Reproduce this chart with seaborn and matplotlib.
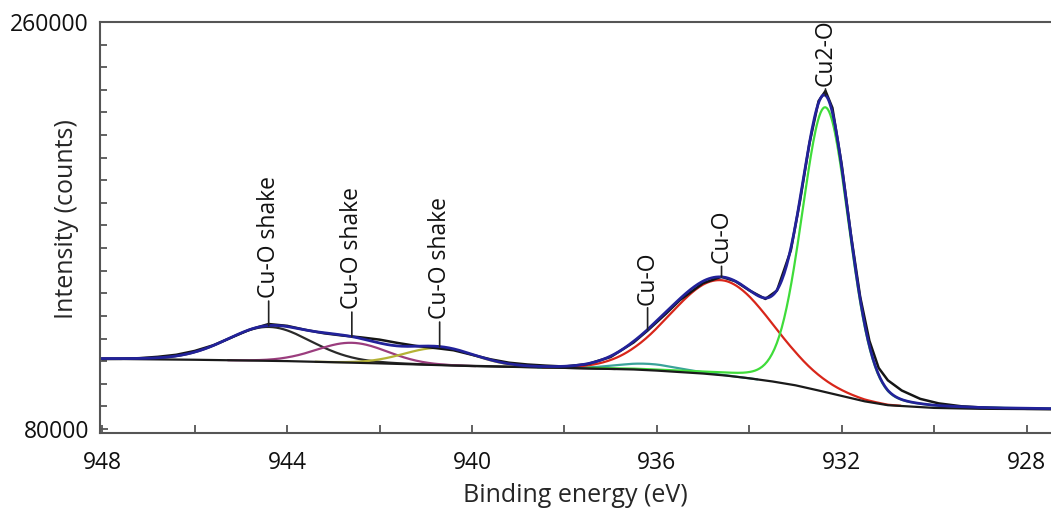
import numpy as np
import pandas as pd
import seaborn as sns
import matplotlib.pyplot as plt
from matplotlib.ticker import MultipleLocator, FixedLocator

# Shirley background (binding energy, counts)
bg_energy = [948.0, 946.0, 944.0, 942.0, 940.0, 938.0, 936.5, 936.0, 935.0, 934.5,
             934.0, 933.5, 933.0, 932.5, 932.0, 931.5, 931.0, 930.0, 929.0, 927.4]
bg_counts = [111000, 110600, 110000, 109000, 107800, 107000, 106300, 105800, 104500, 103600,
             102400, 101000, 99300, 97000, 94600, 92200, 90500, 89300, 88900, 88700]

# fitted components: centre (eV), height above background, FWHM (eV), lorentz fraction
peak_names = ["Cu-O shake", "Cu-O shake", "Cu-O shake", "Cu-O", "Cu-O", "Cu2-O"]
peak_center = [944.4, 942.6, 940.7, 936.2, 934.6, 932.35]
peak_height = [15000, 8800, 7600, 2800, 42000, 126000]
peak_fwhm = [2.15, 1.8, 1.8, 1.6, 2.6, 1.2]
peak_eta = [0.1, 0.0, 0.0, 0.0, 0.0, 0.15]
peak_colors = ["#2a2a2a", "#9b3d7e", "#b5b336", "#3aa39a", "#d8261a", "#3fdc3a"]

# measured spectrum (black line)
data_energy = [948.0, 947.6, 947.2, 946.8, 946.4, 946.0, 945.6, 945.2, 944.8, 944.4,
               944.0, 943.6, 943.2, 942.8, 942.4, 942.0, 941.6, 941.2, 940.8, 940.4,
               940.0, 939.6, 939.2, 938.8, 938.4, 938.0, 937.5, 937.0, 936.5, 936.2,
               935.8, 935.5, 935.0, 934.6, 934.3, 934.0, 933.65, 933.4, 933.1, 932.9,
               932.7, 932.5, 932.35, 932.2, 932.0, 931.8, 931.6, 931.4, 931.2, 931.0,
               930.7, 930.3, 929.9, 929.4, 928.8, 928.0, 927.4]
data_counts = [110900, 111000, 111300, 111900, 112800, 114500, 117000, 120500, 124000, 126400,
               125600, 123800, 122300, 121300, 120500, 119500, 118000, 116700, 115800, 114800,
               112800, 110800, 109300, 108500, 108000, 107600, 108700, 111800, 118300, 123500,
               131000, 137000, 144500, 147300, 145300, 141300, 137500, 141200, 159000, 181000,
               206000, 225000, 229500, 222000, 197000, 166000, 138500, 119000, 107000, 101500,
               97000, 93300, 91300, 90000, 89300, 88900, 88800]

label_offsets = [14, 14, 14, 12, 4, 1]


def pseudo_voigt(e, c, h, w, eta):
    d = (e - c) / w
    return h * ((1 - eta) * np.exp(-4 * np.log(2) * d ** 2) + eta / (1 + 4 * d ** 2))


def main():
    sns.set_theme(style="white")
    plt.rcParams['font.family'] = ['Open Sans', 'DejaVu Sans']

    fig = plt.figure(figsize=(10.51, 5.08), dpi=100)
    ax = fig.add_axes([100 / 1051, 1 - 433 / 508, 951 / 1051, 411 / 508])

    e = np.linspace(948.2, 927.2, 800)
    bg = np.interp(e, bg_energy[::-1], bg_counts[::-1])
    comps = [pseudo_voigt(e, c, h, w, k) for c, h, w, k
             in zip(peak_center, peak_height, peak_fwhm, peak_eta)]
    envelope = bg + np.sum(comps, axis=0)

    # each component only where it rises off the background
    for comp, h, col in zip(comps, peak_height, peak_colors):
        keep = comp > 0.002 * h
        sns.lineplot(x=e[keep], y=(bg + comp)[keep], color=col, lw=1.6, ax=ax)
    sns.lineplot(x=bg_energy, y=bg_counts, color="#1a1a1a", lw=1.6, ax=ax)
    sns.lineplot(x=data_energy, y=data_counts, color="#151515", lw=1.8, ax=ax)
    sns.lineplot(x=e, y=envelope, color="#22229a", lw=2.0, ax=ax)

    for name, c, off in zip(peak_names, peak_center, label_offsets):
        yv = np.interp(c, e[::-1], envelope[::-1])
        ax.annotate(name, xy=(c, yv), xytext=(0, off + 6), textcoords="offset points",
                    rotation=90, ha="center", va="bottom", fontsize=16.5, color="#111111",
                    arrowprops=dict(arrowstyle="-", color="#222222", lw=1.2,
                                    shrinkA=0, shrinkB=0))

    ax.set_xlim(948.05, 927.47)
    ax.set_ylim(78200, 260000)
    ax.xaxis.set_major_locator(FixedLocator([948, 944, 940, 936, 932, 928]))
    ax.xaxis.set_minor_locator(MultipleLocator(2))
    ax.yaxis.set_major_locator(FixedLocator([80000, 260000]))
    ax.yaxis.set_minor_locator(MultipleLocator(10000))
    ax.tick_params(axis="both", which="both", direction="in", color="#555555",
                   width=1.3, length=6, labelsize=16.5, labelcolor="#111111")
    ax.tick_params(axis="x", which="both", pad=13, bottom=True)
    ax.tick_params(axis="y", which="both", pad=8, left=True)
    ax.tick_params(axis="y", which="minor", length=5)

    for side in ["left", "bottom", "top"]:
        ax.spines[side].set_color("#555555")
        ax.spines[side].set_linewidth(1.5)
    ax.spines["right"].set_visible(False)

    ax.set_xlabel("Binding energy (eV)", fontsize=18, labelpad=6)
    ax.set_ylabel("Intensity (counts)", fontsize=18)
    ax.yaxis.set_label_coords(-0.022, 0.52)

    fig.savefig("out.png", dpi=100)


if __name__ == "__main__":
    main()
